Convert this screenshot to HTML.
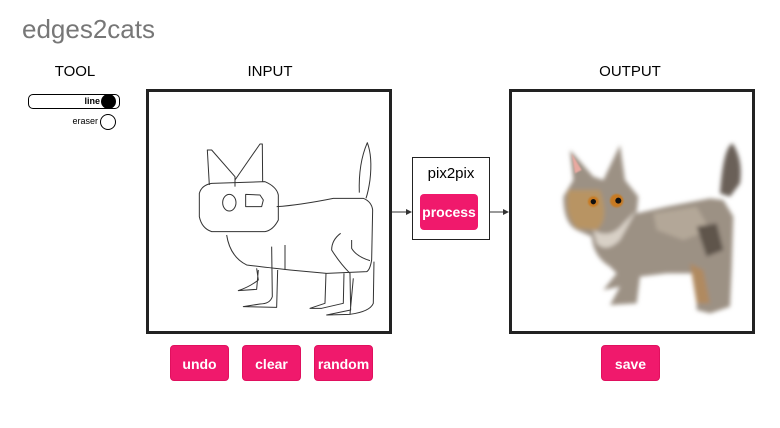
<!DOCTYPE html>
<html><head><style>
body{margin:0;width:780px;height:428px;background:#fff;position:relative;overflow:hidden;font-family:"Liberation Sans",sans-serif}
.a{position:absolute}
.t{font-size:15px;color:#000;text-align:center}
.btn{position:absolute;background:#f0196c;color:#fff;font-size:14px;font-weight:bold;border-radius:4px;text-align:center;line-height:36px;height:36px;top:345px;width:59px;border:1px solid #e0105e;box-sizing:border-box}
</style></head><body>
<div class="a" style="left:22px;top:14px;font-size:26px;color:#777">edges2cats</div>
<div class="a t" style="left:40px;top:63px;width:70px">TOOL</div>
<div class="a t" style="left:200px;top:63px;width:140px">INPUT</div>
<div class="a t" style="left:560px;top:63px;width:140px">OUTPUT</div>
<div class="a" style="left:28px;top:94px;width:92px;height:15px;border:1px solid #000;border-radius:5px;box-sizing:border-box"></div>
<div class="a" style="left:70px;top:96px;width:30px;font-size:9px;font-weight:bold;text-align:right">line</div>
<div class="a" style="left:101px;top:94px;width:15px;height:15px;border-radius:50%;background:#000"></div>
<div class="a" style="left:60px;top:116px;width:38px;font-size:9px;text-align:right">eraser</div>
<div class="a" style="left:100px;top:114px;width:14px;height:14px;border-radius:50%;border:1px solid #000"></div>
<div class="a" style="left:146px;top:89px;width:246px;height:245px;border:3px solid #222;box-sizing:border-box"></div>
<div class="a" style="left:509px;top:89px;width:246px;height:245px;border:3px solid #222;box-sizing:border-box"></div>
<svg class="a" style="left:0;top:0" width="780" height="428">
<g fill="none" stroke="#333" stroke-width="3" transform="translate(150,130) scale(0.3333)" stroke-linejoin="round">
<path d="M185,160 L345,155 Q380,170 385,195 L385,270 Q370,300 345,305 L185,305 Q155,295 148,260 L148,190 Q155,165 185,160 Z"/>
<path d="M178,165 L172,60 L185,60 L255,140 L255,170"/>
<path d="M255,150 L330,42 L337,42 L338,155"/>
<ellipse cx="238" cy="218" rx="20" ry="25"/>
<path d="M287,193 L330,195 L340,210 L335,230 L287,230 Z"/>
<path d="M380,230 Q450,225 550,205 L640,205 Q665,215 668,240 L665,390 Q660,420 650,425 L530,430 L420,420 Q330,410 290,405 Q240,380 230,315"/>
<path d="M628,188 Q625,100 652,38 Q668,80 660,150 Q655,185 648,205"/>
<path d="M365,350 L367,500 Q360,522 330,522 L280,530 L380,532 L383,420"/>
<path d="M405,345 L405,420"/>
<path d="M320,415 L325,450 Q300,470 265,482 L320,478 L325,420"/>
<path d="M572,310 Q545,330 545,360 Q570,400 600,430 L602,540 L530,555 L600,553 L610,445"/>
<path d="M605,330 L605,355 Q620,380 660,392"/>
<path d="M672,395 L670,520 Q660,545 600,553"/>
<path d="M528,430 L525,520 L480,535 L515,535 L580,520 L582,430"/>
</g>
<defs><filter id="b"><feGaussianBlur stdDeviation="6"/></filter><filter id="c"><feGaussianBlur stdDeviation="2"/></filter></defs>
<g transform="translate(510,130) scale(0.3333)">
<g filter="url(#b)">
<path d="M180,60 L250,140 L280,150 L330,45 L345,150 L385,200 L380,250 L470,230 L600,205 L640,210 L670,260 L665,420 L660,530 L600,550 L560,540 L560,430 L470,430 L390,440 L380,520 L300,525 L330,470 L280,480 L320,430 L300,410 Q250,380 245,320 L200,300 Q160,280 160,200 L190,150 Z" fill="#9c9184"/>
<path d="M175,180 Q160,250 200,295 L260,300 Q300,270 270,180 Z" fill="#b89463"/>
<path d="M630,190 Q640,50 668,40 Q700,90 690,160 L660,200 Z" fill="#6a6058"/>
<path d="M250,300 Q300,330 340,280 L380,240 L330,330 Q290,370 260,340 Z" fill="#d8d0c6"/>
<path d="M430,250 L560,230 L600,300 L520,330 L440,300 Z" fill="#b3a798"/>
<path d="M560,290 L620,280 L640,360 L590,380 Z" fill="#5e554c"/>
<path d="M540,400 L580,420 L600,520 L560,520 Z" fill="#b08a60"/>
</g>
<g filter="url(#c)">
<circle cx="250" cy="215" r="16" fill="#c87a20"/><circle cx="320" cy="212" r="20" fill="#c87a20"/>
</g>
<circle cx="250" cy="215" r="8" fill="#111"/><circle cx="325" cy="212" r="9" fill="#111"/>
<path d="M185,70 L215,120 L195,130 Z" fill="#e8a9a0" filter="url(#c)"/>
</g>
<line x1="392" y1="212" x2="410" y2="212" stroke="#333"/><path d="M406,209 L412,212 L406,215Z" fill="#333"/>
<line x1="490" y1="212" x2="508" y2="212" stroke="#333"/><path d="M503,209 L509,212 L503,215Z" fill="#333"/>
</svg>
<div class="a" style="left:412px;top:157px;width:78px;height:83px;border:1.5px solid #222;box-sizing:border-box"></div>
<div class="a t" style="left:412px;top:165px;width:78px">pix2pix</div>
<div class="a" style="left:420px;top:194px;width:58px;height:36px;background:#f0196c;border-radius:4px;color:#fff;font-weight:bold;font-size:14px;text-align:center;line-height:36px">process</div>
<div class="btn" style="left:170px">undo</div>
<div class="btn" style="left:242px">clear</div>
<div class="btn" style="left:314px">random</div>
<div class="btn" style="left:601px">save</div>
</body></html>
